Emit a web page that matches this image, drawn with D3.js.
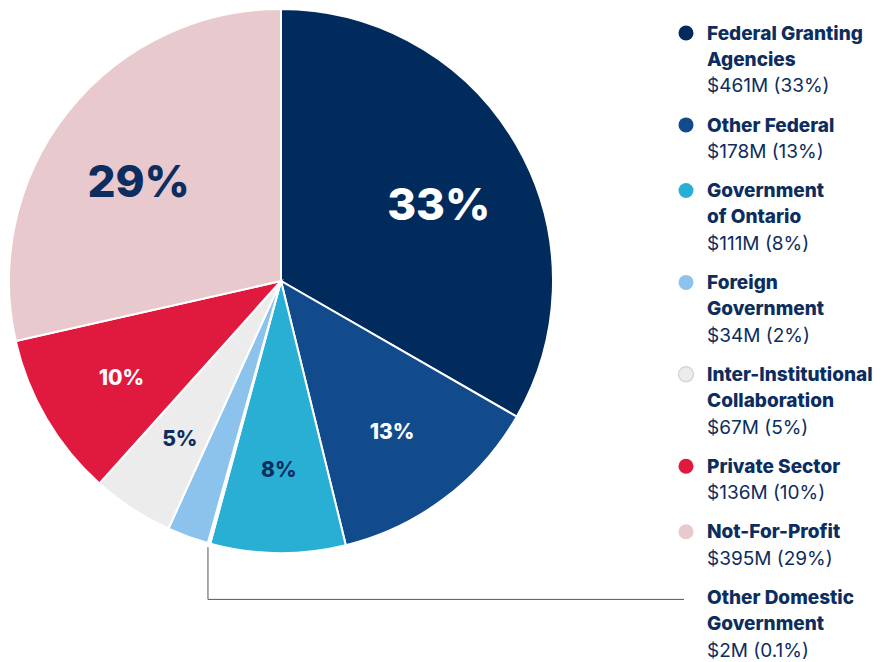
<!DOCTYPE html>
<html>
<head>
<meta charset="utf-8">
<script src="https://cdn.jsdelivr.net/npm/d3@7"></script>
<style>
  body { margin: 0; background: #fff; }
  svg { display: block; }
</style>
</head>
<body>
<div id="chart"></div>
<script>
// Funding sources, clockwise from 12 o'clock
const categories = [
    "Federal Granting Agencies",
    "Other Federal",
    "Government of Ontario",
    "Other Domestic Government",
    "Foreign Government",
    "Inter-Institutional Collaboration",
    "Private Sector",
    "Not-For-Profit"
];
const amounts = [461, 178, 111, 2, 34, 67, 136, 395];   // $M
const percentLabels = ["33%", "13%", "8%", "0.1%", "2%", "5%", "10%", "29%"];
const sliceLabels = ["33%", "13%", "8%", "", "", "5%", "10%", "29%"];
const colors = ["#002b5c", "#124b8c", "#2aafd4", "#ffffff", "#8cc3ec", "#ececec", "#e0193e", "#e8c9cd"];

// legend text lines (the last one gets a leader line instead of a dot)
const legendLines = [
    ["Federal Granting", "Agencies"],
    ["Other Federal"],
    ["Government", "of Ontario"],
    ["Foreign", "Government"],
    ["Inter-Institutional", "Collaboration"],
    ["Private Sector"],
    ["Not-For-Profit"],
    ["Other Domestic", "Government"]
];
const legendOrder = [0, 1, 2, 4, 5, 6, 7, 3];

const width = 885, height = 662;
const cx = 281, cy = 281, radius = 272;
const navy = "#0c2d5e";

const svg = d3.select("#chart").append("svg")
    .attr("width", width)
    .attr("height", height);

const data = categories.map((c, i) => ({
    name: c, value: amounts[i], color: colors[i],
    label: sliceLabels[i], pct: percentLabels[i]
}));

const pie = d3.pie()
    .value(d => d.value)
    .sort(null);

const arcs = pie(data);

const arc = d3.arc()
    .innerRadius(0)
    .outerRadius(radius);

const g = svg.append("g")
    .attr("transform", `translate(${cx},${cy})`);

g.selectAll("path.slice")
    .data(arcs)
  .enter().append("path")
    .attr("class", "slice")
    .attr("d", arc)
    .attr("fill", d => d.data.color)
    .attr("stroke", "#fff")
    .attr("stroke-width", 2);

// percent labels inside slices
g.selectAll("text.pct")
    .data(arcs.filter(d => d.data.label))
  .enter().append("text")
    .attr("class", "pct")
    .attr("transform", d => {
        const big = d.data.value > 300;
        const r = big ? radius * 0.67 : radius * 0.68;
        const a = (d.startAngle + d.endAngle) / 2;
        return `translate(${r * Math.sin(a)},${-r * Math.cos(a) + (big ? 14 : 3)})`;
    })
    .attr("text-anchor", "middle")
    .attr("dy", "0.36em")
    .attr("font-family", "Inter, 'Open Sans', sans-serif")
    .attr("font-weight", 800)
    .attr("font-size", d => d.data.value > 300 ? 44 : 21)
    .attr("fill", d => ["#ffffff", "#ececec", "#e8c9cd", "#2aafd4"].includes(d.data.color) ? navy : "#fff")
    .text(d => d.data.label);

// legend
const legendX = 707, dotX = 686, lineH = 26.3;
const legend = svg.append("g");
let y = 33;
const legendPos = [];
legendOrder.forEach((idx, k) => {
    const d = data[idx];
    const lines = legendLines[k];
    legendPos[idx] = y;
    if (idx !== 3) {
        legend.append("circle")
            .attr("cx", dotX)
            .attr("cy", y)
            .attr("r", 7.5)
            .attr("fill", d.color)
            .attr("stroke", d.color === "#ececec" ? "#d6d6d6" : "none")
            .attr("stroke-width", 1.5);
    }
    lines.forEach((t, j) => {
        legend.append("text")
            .attr("x", legendX)
            .attr("y", y + j * lineH)
            .attr("dy", "0.35em")
            .attr("font-family", "Inter, 'Open Sans', sans-serif")
            .attr("font-weight", 800)
            .attr("font-size", 19)
            .attr("fill", navy)
            .text(t);
    });
    legend.append("text")
        .attr("x", legendX)
        .attr("y", y + lines.length * lineH)
        .attr("dy", "0.35em")
        .attr("font-family", "Inter, 'Open Sans', sans-serif")
        .attr("font-weight", 400)
        .attr("font-size", 19)
        .attr("fill", navy)
        .text(`$${d.value}M (${d.pct})`);
    y += (lines.length + 1) * lineH + 13;
});

// leader line for the tiny slice
const tiny = arcs[3];
const ta = (tiny.startAngle + tiny.endAngle) / 2;
const lx = cx + (radius + 4) * Math.sin(ta);
const ly = cy - (radius + 4) * Math.cos(ta);
svg.append("path")
    .attr("d", `M${lx},${ly}V${legendPos[3] + 2}H${dotX - 2}`)
    .attr("fill", "none")
    .attr("stroke", "#555")
    .attr("stroke-width", 1);
</script>
</body>
</html>
